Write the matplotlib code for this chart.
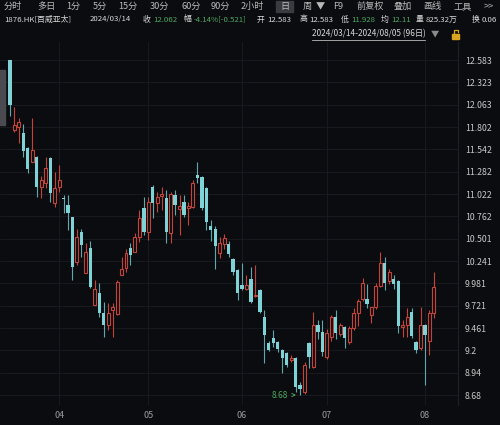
import numpy as np
import pandas as pd
import matplotlib
matplotlib.use("Agg")
import matplotlib.pyplot as plt
from matplotlib.patches import Rectangle

plt.rcParams['font.family'] = ['Noto Sans CJK SC', 'DejaVu Sans']

# trading days 2024/03/14 - 2024/08/05 (HK holidays removed)
holidays = ['2024-03-29', '2024-04-01', '2024-04-04', '2024-05-01',
            '2024-05-15', '2024-06-10', '2024-07-01']
dates = pd.bdate_range('2024-03-14', '2024-08-05')
dates = dates[~dates.isin(pd.to_datetime(holidays))]

opens = [12.583, 11.77, 11.80, 11.73, 11.56, 11.40, 11.45, 11.10, 11.15, 11.44,
         10.92, 11.10, 10.98, 10.89, 10.75, 10.23, 10.58, 10.10, 10.39, 9.73,
         9.87, 9.64, 9.50, 9.67, 9.62, 10.08, 10.16, 10.39, 10.35, 10.52,
         10.86, 10.58, 11.10, 10.92, 11.00, 10.98, 10.57, 11.01, 10.85, 10.93,
         10.86, 10.87, 11.24, 11.22, 11.09, 10.65, 10.61, 10.33, 10.44, 10.44,
         10.26, 10.14, 9.96, 9.92, 10.03, 9.83, 9.90, 9.59, 9.29, 9.34,
         9.30, 9.21, 9.17, 9.09, 9.11, 8.80, 8.71, 9.29, 9.01, 9.50,
         9.41, 9.12, 9.36, 9.59, 9.39, 9.47, 9.30, 9.46, 9.64, 9.80,
         9.80, 9.61, 9.71, 9.95, 10.22, 10.01, 10.03, 10.01, 9.47, 9.50,
         9.65, 9.30, 9.23, 9.50, 9.31, 9.64]
highs = [12.583, 12.04, 11.91, 11.84, 11.57, 11.91, 11.46, 11.23, 11.45, 11.45,
         11.28, 11.36, 11.01, 11.01, 10.76, 10.62, 10.62, 10.45, 10.47, 10.02,
         9.98, 9.76, 9.75, 9.75, 10.02, 10.29, 10.38, 10.45, 10.57, 10.83,
         10.99, 10.99, 11.13, 11.04, 11.10, 11.07, 11.04, 11.07, 11.01, 11.01,
         10.93, 11.18, 11.40, 11.23, 11.10, 10.72, 10.65, 10.52, 10.56, 10.48,
         10.28, 10.15, 10.22, 10.08, 10.17, 10.20, 9.92, 9.67, 9.31, 9.44,
         9.31, 9.22, 9.18, 9.15, 9.12, 8.83, 9.06, 9.30, 9.65, 9.55,
         9.55, 9.45, 9.61, 9.67, 9.52, 9.49, 9.48, 9.69, 9.80, 10.04,
         9.97, 9.71, 9.98, 10.35, 10.29, 10.15, 10.08, 10.02, 9.55, 9.69,
         9.69, 9.31, 9.70, 9.51, 9.67, 10.11]
lows = [11.928, 11.74, 11.62, 11.45, 11.27, 11.39, 10.99, 10.97, 11.09, 10.93,
        10.87, 11.04, 10.80, 10.60, 10.02, 10.19, 10.29, 10.10, 9.93, 9.73,
        9.59, 9.36, 9.44, 9.36, 9.61, 10.08, 10.11, 10.19, 10.35, 10.46,
        10.54, 10.49, 10.74, 10.81, 10.84, 10.45, 10.45, 10.78, 10.54, 10.75,
        10.66, 10.86, 11.15, 10.84, 10.60, 10.48, 10.15, 10.28, 10.38, 10.29,
        10.08, 9.79, 9.90, 9.90, 9.75, 9.82, 9.63, 9.05, 9.19, 9.24,
        9.18, 8.94, 9.01, 9.06, 8.72, 8.68, 8.69, 8.99, 9.00, 9.33,
        9.14, 9.10, 9.31, 9.33, 9.37, 9.23, 9.27, 9.44, 9.48, 9.78,
        9.69, 9.52, 9.68, 9.94, 9.90, 9.97, 9.92, 9.40, 9.36, 9.36,
        9.34, 9.17, 9.20, 8.80, 9.15, 9.58]
closes = [12.062, 11.83, 11.86, 11.52, 11.31, 11.54, 11.10, 11.18, 11.32, 11.03,
          11.09, 11.18, 10.96, 10.80, 10.17, 10.52, 10.43, 10.35, 9.94, 9.92,
          9.64, 9.50, 9.64, 9.71, 10.00, 10.15, 10.33, 10.31, 10.52, 10.74,
          10.58, 10.93, 10.92, 10.99, 11.02, 10.58, 11.02, 10.89, 10.88, 10.78,
          10.88, 11.15, 11.21, 10.86, 10.70, 10.60, 10.42, 10.45, 10.51, 10.32,
          10.11, 9.87, 9.92, 9.96, 9.76, 9.85, 9.65, 9.38, 9.21, 9.29,
          9.22, 9.11, 9.03, 9.11, 8.77, 8.75, 9.03, 9.12, 9.50, 9.41,
          9.18, 9.40, 9.59, 9.40, 9.50, 9.34, 9.46, 9.64, 9.77, 9.99,
          9.74, 9.71, 9.95, 10.22, 9.99, 10.11, 9.97, 9.48, 9.50, 9.59,
          9.37, 9.20, 9.50, 9.38, 9.64, 9.94]

price_ticks = [12.583, 12.323, 12.063, 11.802, 11.542, 11.282, 11.022, 10.762,
               10.501, 10.241, 9.981, 9.721, 9.461, 9.2, 8.94, 8.68]

bg = '#0b0c10'
red = '#c4443a'
cyan = '#7fd2d6'
cyan_wick = '#5fa9ae'
green = '#4fa860'
grid = '#1a1c22'
txt = '#b9b9b9'
white = '#d8d8d8'

W, H = 500, 425
fig = plt.figure(figsize=(5, 4.25), dpi=100, facecolor=bg)
ax = fig.add_axes([0, 20 / H, 458 / W, 363 / H], facecolor=bg)

o = np.array(opens); h = np.array(highs); l = np.array(lows); c = np.array(closes)
x = np.arange(len(o))
up = c >= o

ax.vlines(x[up], l[up], h[up], color=red, lw=0.8, zorder=2)
ax.vlines(x[~up], l[~up], h[~up], color=cyan_wick, lw=0.8, zorder=2)
body_lo = np.minimum(o, c)
body_h = np.maximum(np.abs(c - o), 0.012)
ax.bar(x[up], body_h[up], bottom=body_lo[up], width=0.66, facecolor=bg,
       edgecolor=red, linewidth=0.8, zorder=3)
ax.bar(x[~up], body_h[~up], bottom=body_lo[~up], width=0.74, color=cyan,
       linewidth=0, zorder=3)

# lowest price marker
imin = int(np.argmin(l))
ax.annotate(f'{l[imin]:.2f}', xy=(x[imin] - 0.3, l[imin]), xytext=(x[imin] - 6.4, l[imin]),
            color=green, fontsize=6, va='center', ha='left',
            arrowprops=dict(arrowstyle='->', color=green, lw=0.6))

ax.set_xlim(-2.24, 100.4)
ax.set_ylim(8.564, 12.793)

month_idx = [int(np.argmax(dates.month == m)) for m in [4, 5, 6, 7, 8]]
ax.set_xticks(month_idx)
ax.set_xticklabels([f'{m:02d}' for m in [4, 5, 6, 7, 8]], color='#9a9a9a', fontsize=6.5)
ax.set_yticks(price_ticks)
ax.yaxis.tick_right()
ax.set_yticklabels([f'{p:g}' for p in price_ticks], color='#c8c8c8', fontsize=6.3)
ax.tick_params(length=0, pad=4)
ax.tick_params(axis='y', pad=5)
ax.grid(True, color=grid, lw=0.6)
for s in ['top', 'bottom', 'left']:
    ax.spines[s].set_visible(False)
ax.spines['right'].set_color('#1e2026')
ax.spines['right'].set_linewidth(0.8)

def fx(px):
    return px / W

def fy(py):
    return 1 - py / H

# toolbar
menu = [('分时', 4), ('多日', 37), ('1分', 66), ('5分', 93), ('15分', 118), ('30分', 150),
        ('60分', 181), ('90分', 211), ('2小时', 241), ('日', 280), ('周', 303), ('▼', 316),
        ('F9', 333), ('前复权', 357), ('叠加', 394), ('画线', 423), ('工具', 453), ('>>', 484)]
fig.patches.append(Rectangle((fx(276), fy(12)), 17 / W, 11 / H, transform=fig.transFigure,
                             color='#3a3b40', zorder=0))
for label, px in menu:
    fig.text(fx(px), fy(6.5), label, color=txt, fontsize=6.6, va='center', ha='left')

# quote line
quote = [('1876.HK[百威亚太]', 4, white), ('2024/03/14', 90, white),
         ('收', 143, white), ('12.062', 153, green), ('幅', 184, white),
         ('-4.14%[-0.521]', 194, green), ('开', 257, white), ('12.583', 267, white),
         ('高', 299, white), ('12.583', 309, white), ('低', 341, white),
         ('11.928', 351, green), ('均', 381, white), ('12.11', 391, green),
         ('量', 416, white), ('825.32万', 426, white), ('换', 472, white),
         ('0.06', 482, white)]
for label, px, col in quote:
    fig.text(fx(px), fy(19.5), label, color=col, fontsize=5.65, va='center', ha='left')

fig.text(fx(312), fy(34), '2024/03/14-2024/08/05 (96日)', color=white,
         fontsize=5.9, va='center', ha='left')
fig.add_artist(plt.Line2D([fx(312), fx(425)], [fy(39.5), fy(39.5)], color='#bbbbbb', lw=0.6))
fig.text(fx(431), fy(34), '▼', color='#8a8a8a', fontsize=6, va='center', ha='left')
fig.patches.append(Rectangle((fx(452), fy(39)), 7 / W, 5 / H, transform=fig.transFigure,
                             color='#d9a520', zorder=2))
fig.add_artist(plt.Line2D([fx(454), fx(454), fx(458), fx(458)],
                          [fy(34), fy(30), fy(30), fy(32)], color='#d9a520', lw=0.9))

# left side tab
fig.patches.append(Rectangle((0, fy(125)), 5 / W, 55 / H, transform=fig.transFigure,
                             color='#4a4b50', zorder=2))

fig.savefig('out.png', dpi=100, facecolor=bg)
